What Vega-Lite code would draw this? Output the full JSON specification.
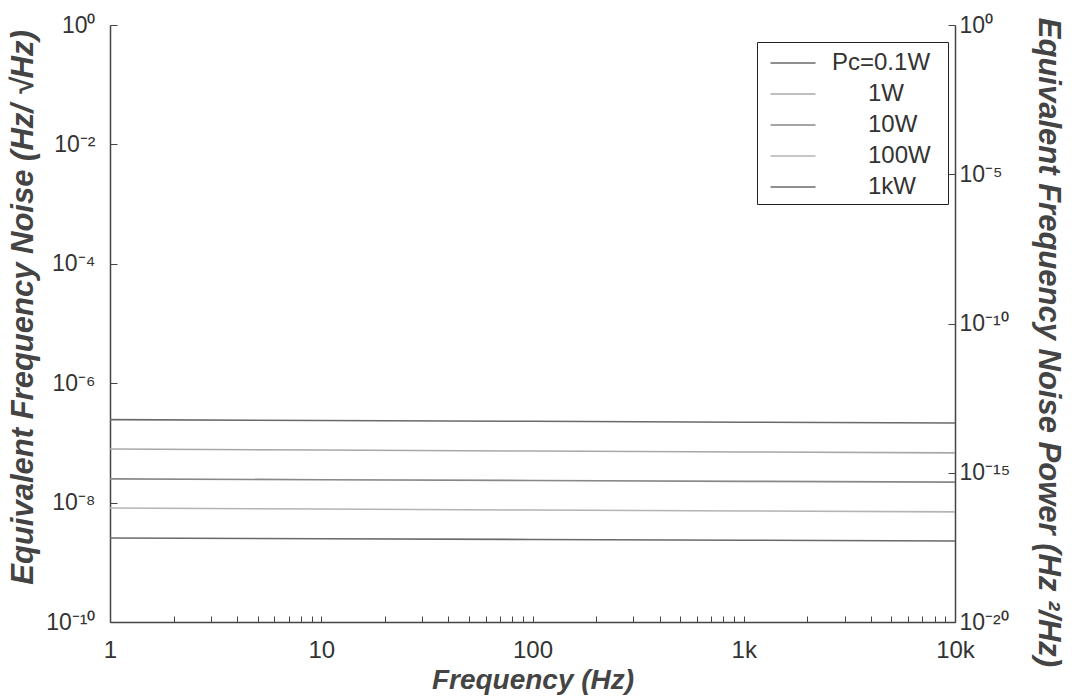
{
  "$schema": "https://vega.github.io/schema/vega-lite/v6.json",
  "width": 845,
  "height": 597,
  "autosize": {"type": "none"},
  "padding": {"left": 110, "top": 25, "right": 125, "bottom": 76},
  "background": "white",
  "config": {"view": {"stroke": null}, "font": "Liberation Sans"},
  "datasets": {
    "noise": [
      {"f": 1, "noise": 2.45e-7, "power": "0.1W"},
      {"f": 10, "noise": 2.37e-7, "power": "0.1W"},
      {"f": 100, "noise": 2.3e-7, "power": "0.1W"},
      {"f": 1000, "noise": 2.22e-7, "power": "0.1W"},
      {"f": 10000, "noise": 2.15e-7, "power": "0.1W"},
      {"f": 1, "noise": 7.9e-8, "power": "1W"},
      {"f": 10, "noise": 7.6e-8, "power": "1W"},
      {"f": 100, "noise": 7.3e-8, "power": "1W"},
      {"f": 1000, "noise": 7.05e-8, "power": "1W"},
      {"f": 10000, "noise": 6.8e-8, "power": "1W"},
      {"f": 1, "noise": 2.5e-8, "power": "10W"},
      {"f": 10, "noise": 2.42e-8, "power": "10W"},
      {"f": 100, "noise": 2.35e-8, "power": "10W"},
      {"f": 1000, "noise": 2.27e-8, "power": "10W"},
      {"f": 10000, "noise": 2.2e-8, "power": "10W"},
      {"f": 1, "noise": 8.1e-9, "power": "100W"},
      {"f": 10, "noise": 7.8e-9, "power": "100W"},
      {"f": 100, "noise": 7.5e-9, "power": "100W"},
      {"f": 1000, "noise": 7.25e-9, "power": "100W"},
      {"f": 10000, "noise": 7.0e-9, "power": "100W"},
      {"f": 1, "noise": 2.55e-9, "power": "1kW"},
      {"f": 10, "noise": 2.48e-9, "power": "1kW"},
      {"f": 100, "noise": 2.41e-9, "power": "1kW"},
      {"f": 1000, "noise": 2.34e-9, "power": "1kW"},
      {"f": 10000, "noise": 2.28e-9, "power": "1kW"}
    ],
    "psd": [{"p": 1e-20}, {"p": 1}]
  },
  "layer": [
    {
      "data": {"name": "noise"},
      "mark": {"type": "line", "strokeWidth": 1.6},
      "encoding": {
        "x": {
          "field": "f",
          "type": "quantitative",
          "scale": {"type": "log", "domain": [1, 10000], "nice": false},
          "axis": {
            "values": [1,2,3,4,5,6,7,8,9,10,20,30,40,50,60,70,80,90,100,200,300,400,500,600,700,800,900,1000,2000,3000,4000,5000,6000,7000,8000,9000,10000],
            "labelExpr": "datum.value == 1 ? '1' : datum.value == 10 ? '10' : datum.value == 100 ? '100' : datum.value == 1000 ? '1k' : datum.value == 10000 ? '10k' : ''",
            "labelOverlap": false,
            "labelFlush": false,
            "labelFontSize": 24,
            "labelColor": "#333",
            "labelPadding": 22,
            "tickSize": -6,
            "tickColor": "#444",
            "domainColor": "#444",
            "domainWidth": 1.5,
            "grid": false,
            "title": "Frequency (Hz)",
            "titleFontSize": 28,
            "titleFontWeight": "bold",
            "titleFontStyle": "italic",
            "titleColor": "#444",
            "titlePadding": 4
          }
        },
        "y": {
          "field": "noise",
          "type": "quantitative",
          "scale": {"type": "log", "domain": [1e-10, 1], "nice": false},
          "axis": {
            "values": [1, 0.01, 0.0001, 0.000001, 1e-8, 1e-10],
            "labelExpr": "'10' + (datum.value >= 0.5 ? '⁰' : datum.value > 0.005 ? '⁻²' : datum.value > 0.00005 ? '⁻⁴' : datum.value > 5e-7 ? '⁻⁶' : datum.value > 5e-9 ? '⁻⁸' : '⁻¹⁰')",
            "labelFontSize": 23,
            "labelColor": "#333",
            "labelPadding": 22,
            "tickSize": -7,
            "tickColor": "#444",
            "domainColor": "#444",
            "domainWidth": 1.5,
            "grid": false,
            "title": "Equivalent Frequency Noise (Hz/ √Hz)",
            "titleFontSize": 31,
            "titleFontWeight": "bold",
            "titleFontStyle": "italic",
            "titleColor": "#444",
            "titlePadding": 6,
            "titleY": 282
          }
        },
        "color": {
          "field": "power",
          "type": "nominal",
          "scale": {
            "domain": ["0.1W", "1W", "10W", "100W", "1kW"],
            "range": ["#6a6a6a", "#a8a8a8", "#888888", "#b4b4b4", "#6a6a6a"]
          },
          "legend": {
            "orient": "none",
            "legendX": 647,
            "legendY": 17,
            "title": null,
            "symbolType": "M-1.5,0H1.5",
            "symbolSize": 900,
            "symbolStrokeWidth": 1.6,
            "symbolOffset": 15,
            "labelFontSize": 24,
            "labelColor": "#333",
            "labelOffset": 23,
            "rowPadding": 3,
            "padding": 5,
            "strokeColor": "#222",
            "fillColor": "white",
            "labelExpr": "datum.label == '0.1W' ? 'Pc=0.1W\u2002\u200b' : '\u200b\u2002\u2002\u2002' + datum.label"
          }
        }
      }
    },
    {
      "data": {"name": "psd"},
      "mark": {"type": "point", "opacity": 0},
      "encoding": {
        "y": {
          "field": "p",
          "type": "quantitative",
          "scale": {"type": "log", "domain": [1e-20, 1], "nice": false},
          "axis": {
            "orient": "right",
            "values": [1, 1e-5, 1e-10, 1e-15, 1e-20],
            "labelExpr": "'10' + (datum.value >= 0.5 ? '⁰' : datum.value > 5e-6 ? '⁻⁵' : datum.value > 5e-11 ? '⁻¹⁰' : datum.value > 5e-16 ? '⁻¹⁵' : '⁻²⁰')",
            "labelFontSize": 23,
            "labelColor": "#333",
            "labelPadding": 11,
            "tickSize": -7,
            "tickColor": "#444",
            "domainColor": "#444",
            "domainWidth": 1.5,
            "grid": false,
            "title": "Equivalent Frequency Noise Power (Hz ²/Hz)",
            "titleFontSize": 31,
            "titleFontWeight": "bold",
            "titleFontStyle": "italic",
            "titleColor": "#444",
            "titlePadding": 22,
            "titleY": 317
          }
        }
      }
    }
  ],
  "resolve": {"scale": {"y": "independent"}}
}
